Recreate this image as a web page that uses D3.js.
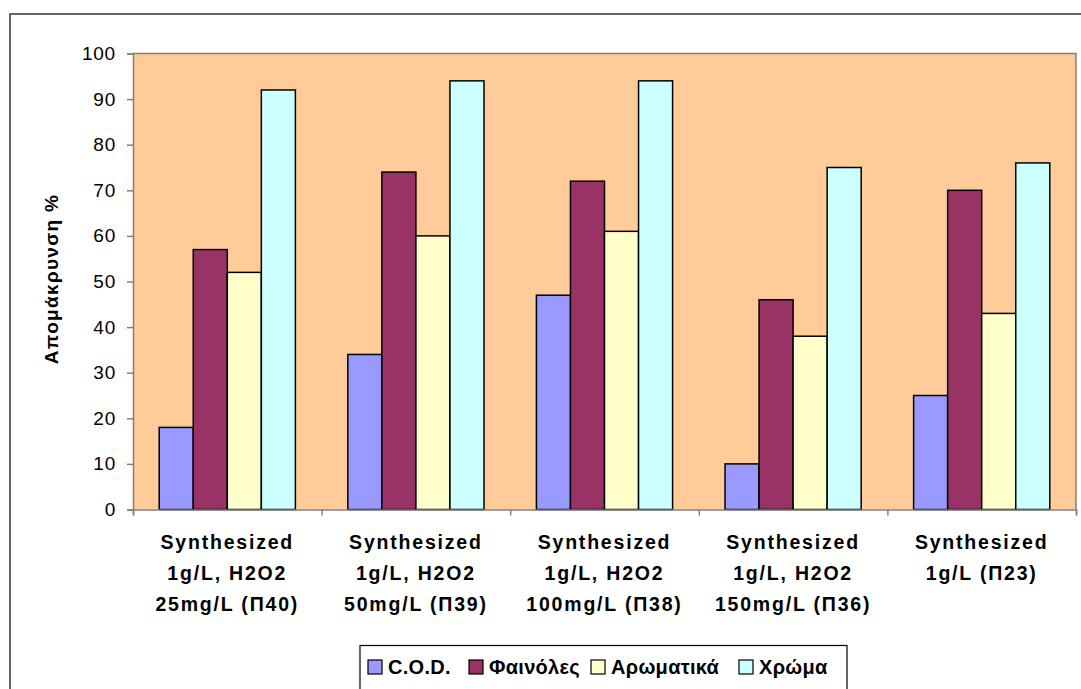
<!DOCTYPE html>
<html><head><meta charset="utf-8">
<script src="https://cdn.jsdelivr.net/npm/d3@7"></script>
<style>body{margin:0;background:#fff}svg{display:block;font-family:Arial,"Liberation Sans",sans-serif}</style>
</head><body>
<svg id="c" width="1081" height="689"></svg>
<script>
const categories = [
  ["Synthesized","1g/L, H2O2","25mg/L (Π40)"],
  ["Synthesized","1g/L, H2O2","50mg/L (Π39)"],
  ["Synthesized","1g/L, H2O2","100mg/L (Π38)"],
  ["Synthesized","1g/L, H2O2","150mg/L (Π36)"],
  ["Synthesized","1g/L (Π23)"]
];
const seriesNames = ["C.O.D.","Φαινόλες","Αρωματικά","Χρώμα"];
const cod = [18, 34, 47, 10, 25];
const phenols = [57, 74, 72, 46, 70];
const aromatics = [52, 60, 61, 38, 43];
const colour = [92, 94, 94, 75, 76];
const yTicks = [0,10,20,30,40,50,60,70,80,90,100];
const colors = ["#9999FF","#993366","#FFFFCC","#CCFFFF"];
const series = [cod, phenols, aromatics, colour];

const svg = d3.select("#c");
const L = 133, R = 1076, T = 53.5, B = 509.5;
const FONT = "Arial,'Liberation Sans',sans-serif";

// outer frame
svg.append("rect").attr("x",10).attr("y",14).attr("width",1100).attr("height",700)
  .attr("fill","#fff").attr("stroke","#333").attr("stroke-width",1.5);

const x0 = d3.scaleBand().domain(d3.range(categories.length)).range([L,R]).paddingInner(0).paddingOuter(0);
const x1 = d3.scaleBand().domain(d3.range(seriesNames.length)).range([0,x0.bandwidth()]).paddingOuter(0.77).paddingInner(0);
const y = d3.scaleLinear().domain([0,100]).range([B,T]);

svg.append("rect").attr("x",L).attr("y",T).attr("width",R-L).attr("height",B-T)
  .attr("fill","#FFCC99");
svg.append("path").attr("d",`M${L},${T}H${R}V${B}`).attr("fill","none").attr("stroke","#808080").attr("stroke-width",1.5);

const g = svg.append("g");
categories.forEach((c,i)=>{
  series.forEach((s,j)=>{
    g.append("rect").attr("x",x0(i)+x1(j)).attr("y",y(s[i]))
      .attr("width",x1.bandwidth()).attr("height",B-y(s[i]))
      .attr("fill",colors[j]).attr("stroke","#000").attr("stroke-width",1.5);
  });
});

// y axis
const ya = svg.append("g").attr("transform",`translate(${L},0)`)
  .call(d3.axisLeft(y).tickValues(yTicks).tickSize(6).tickPadding(11));
ya.select(".domain").attr("stroke","#808080").attr("stroke-width",1.5);
ya.selectAll(".tick line").attr("stroke","#808080").attr("stroke-width",1.5);
ya.selectAll(".tick text").attr("font-size",19).attr("letter-spacing",0.8).attr("fill","#000").attr("font-family",FONT);

// x axis
const xa = svg.append("g").attr("transform",`translate(0,${B})`)
  .call(d3.axisBottom(d3.scaleLinear().domain([0,categories.length]).range([L,R])).tickValues(d3.range(categories.length+1)).tickSize(6).tickFormat(""));
xa.select(".domain").attr("stroke","#808080").attr("stroke-width",1.5);
xa.selectAll(".tick line").attr("stroke","#808080").attr("stroke-width",1.5);

categories.forEach((c,i)=>{
  const cx = x0(i)+x0.bandwidth()/2;
  const t = svg.append("text").attr("x",cx).attr("y",549)
    .attr("text-anchor","middle").attr("font-size",19.5).attr("font-weight","bold").attr("letter-spacing",1.8);
  c.forEach((line,k)=>t.append("tspan").attr("x",cx).attr("y",549+k*31).text(line));
});

svg.append("text").attr("transform",`translate(58,279) rotate(-90)`).attr("text-anchor","middle")
  .attr("font-size",19).attr("font-weight","bold").attr("letter-spacing",1.3).text("Απομάκρυνση %");

// legend
svg.append("rect").attr("x",360).attr("y",645.5).attr("width",487).attr("height",60)
  .attr("fill","#fff").attr("stroke","#000").attr("stroke-width",1.2);
const lx = [368, 469, 591, 739];
seriesNames.forEach((n,j)=>{
  svg.append("rect").attr("x",lx[j]).attr("y",660).attr("width",14).attr("height",14)
    .attr("fill",colors[j]).attr("stroke","#000").attr("stroke-width",1.2);
  svg.append("text").attr("x",lx[j]+20).attr("y",674).attr("font-size",20).attr("font-weight","bold").attr("letter-spacing",0.3).text(n);
});
</script>
</body></html>
